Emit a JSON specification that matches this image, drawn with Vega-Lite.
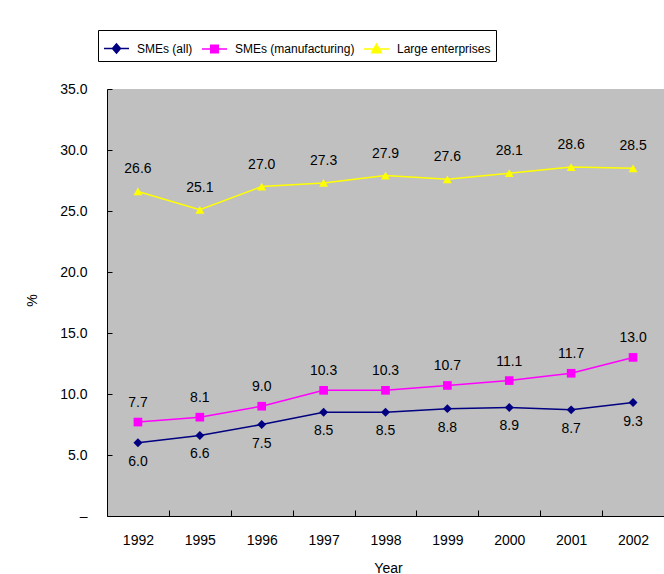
{
  "$schema": "https://vega.github.io/schema/vega-lite/v6.json",
  "autosize": {"type": "none"},
  "width": 557,
  "height": 427,
  "padding": {"left": 107, "top": 89, "right": 0, "bottom": 58},
  "background": "white",
  "config": {
    "font": "Liberation Sans",
    "view": {"fill": "#C0C0C0", "stroke": null},
    "axis": {
      "domainColor": "black",
      "tickColor": "black",
      "labelColor": "black",
      "titleColor": "black",
      "labelFontSize": 14,
      "titleFontSize": 14,
      "titleFontWeight": "normal",
      "grid": false
    }
  },
  "data": {
    "values": [
      {"year": "1992", "series": "SMEs (all)", "value": 6.0},
      {"year": "1995", "series": "SMEs (all)", "value": 6.6},
      {"year": "1996", "series": "SMEs (all)", "value": 7.5},
      {"year": "1997", "series": "SMEs (all)", "value": 8.5},
      {"year": "1998", "series": "SMEs (all)", "value": 8.5},
      {"year": "1999", "series": "SMEs (all)", "value": 8.8},
      {"year": "2000", "series": "SMEs (all)", "value": 8.9},
      {"year": "2001", "series": "SMEs (all)", "value": 8.7},
      {"year": "2002", "series": "SMEs (all)", "value": 9.3},
      {"year": "1992", "series": "SMEs (manufacturing)", "value": 7.7},
      {"year": "1995", "series": "SMEs (manufacturing)", "value": 8.1},
      {"year": "1996", "series": "SMEs (manufacturing)", "value": 9.0},
      {"year": "1997", "series": "SMEs (manufacturing)", "value": 10.3},
      {"year": "1998", "series": "SMEs (manufacturing)", "value": 10.3},
      {"year": "1999", "series": "SMEs (manufacturing)", "value": 10.7},
      {"year": "2000", "series": "SMEs (manufacturing)", "value": 11.1},
      {"year": "2001", "series": "SMEs (manufacturing)", "value": 11.7},
      {"year": "2002", "series": "SMEs (manufacturing)", "value": 13.0},
      {"year": "1992", "series": "Large enterprises", "value": 26.6},
      {"year": "1995", "series": "Large enterprises", "value": 25.1},
      {"year": "1996", "series": "Large enterprises", "value": 27.0},
      {"year": "1997", "series": "Large enterprises", "value": 27.3},
      {"year": "1998", "series": "Large enterprises", "value": 27.9},
      {"year": "1999", "series": "Large enterprises", "value": 27.6},
      {"year": "2000", "series": "Large enterprises", "value": 28.1},
      {"year": "2001", "series": "Large enterprises", "value": 28.6},
      {"year": "2002", "series": "Large enterprises", "value": 28.5}
    ]
  },
  "encoding": {
    "x": {
      "field": "year",
      "type": "ordinal",
      "title": "Year",
      "scale": {"paddingInner": 0, "paddingOuter": 0},
      "axis": {
        "labelAngle": 0,
        "tickBand": "extent",
        "tickSize": -6,
        "labelPadding": 23,
        "titleY": 45,
        "titleX": 281
      }
    },
    "y": {
      "field": "value",
      "type": "quantitative",
      "title": "%",
      "scale": {"domain": [0, 35], "nice": false, "zero": true},
      "axis": {
        "values": [0, 5, 10, 15, 20, 25, 30, 35],
        "labelExpr": "datum.value === 0 ? '–\u00a0\u00a0\u00a0\u00a0\u00a0' : format(datum.value, '.1f')",
        "tickSize": -5,
        "labelPadding": 25,
        "titleX": -68,
        "titleY": 211,
        "titleAngle": -90
      }
    }
  },
  "layer": [
    {
      "mark": {"type": "point", "filled": true, "size": 0, "opacity": 1, "strokeWidth": 1.5},
      "encoding": {
        "fill": {
          "field": "series",
          "type": "nominal",
          "title": null,
          "scale": {
            "domain": ["SMEs (all)", "SMEs (manufacturing)", "Large enterprises"],
            "range": ["#000080", "#FF00FF", "#FFFF00"]
          }
        },
        "stroke": {
          "field": "series",
          "type": "nominal",
          "title": null,
          "scale": {
            "domain": ["SMEs (all)", "SMEs (manufacturing)", "Large enterprises"],
            "range": ["#000080", "#FF00FF", "#FFFF00"]
          }
        },
        "shape": {
          "field": "series",
          "type": "nominal",
          "title": null,
          "scale": {
            "domain": ["SMEs (all)", "SMEs (manufacturing)", "Large enterprises"],
            "range": [
              "M-1,0H1M0,-0.36L0.32,0L0,0.36L-0.32,0Z",
              "M-1,0H1M-0.3,-0.3H0.3V0.3H-0.3Z",
              "M-1,0H1M0,-0.38L0.38,0.3H-0.38Z"
            ]
          },
          "legend": {
            "orient": "none",
            "legendX": -9,
            "legendY": -59,
            "direction": "horizontal",
            "columns": 3,
            "strokeColor": "black",
            "fillColor": "white",
            "padding": 5,
            "labelFontSize": 12,
            "labelColor": "black",
            "labelOffset": 7,
            "columnPadding": 6,
            "symbolSize": 625,
            "symbolStrokeWidth": 1.5,
            "symbolOpacity": 1
          }
        }
      }
    },
    {
      "mark": {"type": "line", "strokeWidth": 1.5},
      "encoding": {
        "color": {
          "field": "series",
          "type": "nominal",
          "legend": null,
          "scale": {
            "domain": ["SMEs (all)", "SMEs (manufacturing)", "Large enterprises"],
            "range": ["#000080", "#FF00FF", "#FFFF00"]
          }
        }
      }
    },
    {
      "transform": [{"filter": "datum.series === 'SMEs (all)'"}],
      "mark": {"type": "point", "shape": "diamond", "filled": true, "opacity": 1, "size": 80, "color": "#000080"},
      "encoding": {}
    },
    {
      "transform": [{"filter": "datum.series === 'SMEs (manufacturing)'"}],
      "mark": {"type": "point", "shape": "square", "filled": true, "opacity": 1, "size": 75, "color": "#FF00FF"},
      "encoding": {}
    },
    {
      "transform": [{"filter": "datum.series === 'Large enterprises'"}],
      "mark": {"type": "point", "shape": "triangle-up", "filled": true, "opacity": 1, "size": 80, "color": "#FFFF00"},
      "encoding": {}
    },
    {
      "transform": [{"filter": "datum.series === 'SMEs (all)'"}],
      "mark": {"type": "text", "dy": 19, "fontSize": 14, "color": "black"},
      "encoding": {"text": {"field": "value", "type": "quantitative", "format": ".1f"}}
    },
    {
      "transform": [{"filter": "datum.series === 'SMEs (manufacturing)'"}],
      "mark": {"type": "text", "dy": -19, "fontSize": 14, "color": "black"},
      "encoding": {"text": {"field": "value", "type": "quantitative", "format": ".1f"}}
    },
    {
      "transform": [{"filter": "datum.series === 'Large enterprises'"}],
      "mark": {"type": "text", "dy": -22, "fontSize": 14, "color": "black"},
      "encoding": {"text": {"field": "value", "type": "quantitative", "format": ".1f"}}
    }
  ]
}
